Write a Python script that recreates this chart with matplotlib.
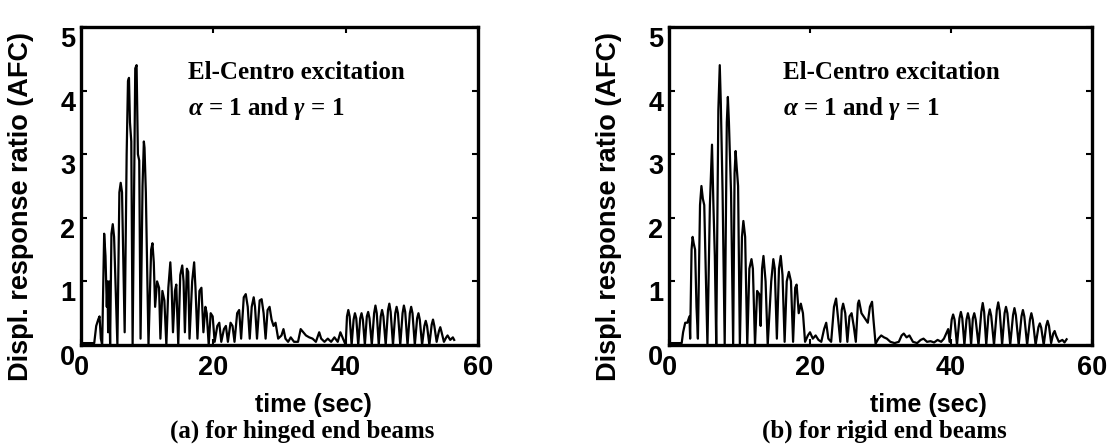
import numpy as np
import matplotlib
matplotlib.use("Agg")
import matplotlib.pyplot as plt

plt.rcParams["mathtext.fontset"] = "custom"
plt.rcParams["mathtext.it"] = "Liberation Serif:italic:bold"
plt.rcParams["mathtext.rm"] = "Liberation Serif:bold"

# ---------------------------------------------------------------------
# Datos: (tiempo [s], razon de respuesta)
# ---------------------------------------------------------------------
hinged = [
    (0.0, 0.03), (2.0, 0.03), (2.3, 0.3), (2.6, 0.4), (2.8, 0.45), (3.0, 0.1),
    (3.2, 0.0), (3.5, 1.75), (3.7, 1.4), (3.9, 0.6), (4.0, 1.0), (4.1, 0.2),
    (4.25, 1.0), (4.4, 0.0), (4.6, 1.75), (4.8, 1.9), (5.0, 1.7), (5.5, 0.0),
    (5.8, 2.4), (6.0, 2.55), (6.2, 2.4), (6.6, 0.2), (6.9, 3.0), (7.1, 4.15),
    (7.25, 4.2), (7.4, 3.5), (7.6, 3.2), (7.8, 0.0), (8.2, 4.35), (8.4, 4.4),
    (8.6, 3.0), (8.8, 2.9), (9.0, 0.1), (9.3, 2.5), (9.5, 3.2), (9.6, 3.1),
    (9.8, 2.4), (10.2, 0.0), (10.6, 1.5), (10.8, 1.6), (11.0, 1.3), (11.2, 0.6),
    (11.5, 1.0), (11.8, 0.9), (12.0, 0.1), (12.3, 0.85), (12.6, 0.7), (12.9, 0.0),
    (13.2, 0.9), (13.5, 1.3), (13.7, 0.9), (13.9, 0.2), (14.2, 0.85), (14.4, 0.95),
    (14.7, 0.0), (15.0, 1.1), (15.3, 1.25), (15.5, 1.0), (15.7, 0.2), (16.0, 1.2),
    (16.2, 1.15), (16.4, 0.1), (16.8, 1.0), (17.1, 1.3), (17.3, 0.9), (17.6, 0.1),
    (17.9, 0.85), (18.2, 0.9), (18.5, 0.2), (18.8, 0.6), (19.0, 0.5), (19.3, 0.0),
    (19.6, 0.5), (19.9, 0.45), (20.2, 0.05), (20.6, 0.3), (20.9, 0.35), (21.2, 0.05),
    (21.6, 0.25), (21.9, 0.3), (22.2, 0.05), (22.6, 0.35), (22.9, 0.3), (23.2, 0.05),
    (23.6, 0.5), (23.9, 0.55), (24.2, 0.1), (24.6, 0.75), (24.9, 0.8), (25.2, 0.6),
    (25.5, 0.1), (25.8, 0.6), (26.1, 0.75), (26.3, 0.6), (26.6, 0.1), (27.0, 0.7),
    (27.3, 0.72), (27.6, 0.5), (27.9, 0.1), (28.2, 0.55), (28.5, 0.6), (28.8, 0.4),
    (29.1, 0.3), (29.4, 0.35), (29.8, 0.1), (30.3, 0.15), (30.6, 0.25), (30.9, 0.1),
    (31.3, 0.05), (31.7, 0.12), (32.2, 0.05), (32.8, 0.05), (33.2, 0.25), (33.6, 0.2),
    (34.0, 0.15), (34.5, 0.12), (35.0, 0.1), (35.5, 0.05), (36.0, 0.2), (36.3, 0.1),
    (36.8, 0.05), (37.3, 0.1), (37.8, 0.05), (38.3, 0.12), (38.8, 0.05), (39.2, 0.2),
    (39.6, 0.1), (40.0, 0.0),
    (40.2, 0.45), (40.4, 0.55), (40.6, 0.45), (40.9, 0.0),
    (41.2, 0.4), (41.4, 0.5), (41.6, 0.42), (41.9, 0.0),
    (42.2, 0.42), (42.4, 0.5), (42.6, 0.4), (42.9, 0.0),
    (43.2, 0.45), (43.4, 0.52), (43.6, 0.42), (43.95, 0.0),
    (44.3, 0.5), (44.5, 0.62), (44.7, 0.5), (45.0, 0.0),
    (45.3, 0.45), (45.5, 0.55), (45.7, 0.45), (46.05, 0.0),
    (46.4, 0.55), (46.6, 0.65), (46.8, 0.52), (47.15, 0.0),
    (47.5, 0.5), (47.7, 0.6), (47.9, 0.5), (48.25, 0.0),
    (48.6, 0.5), (48.8, 0.62), (49.0, 0.52), (49.35, 0.0),
    (49.7, 0.5), (49.9, 0.6), (50.1, 0.5), (50.45, 0.0),
    (50.8, 0.42), (51.0, 0.5), (51.2, 0.4), (51.55, 0.0),
    (51.9, 0.3), (52.1, 0.38), (52.3, 0.3), (52.65, 0.0),
    (53.0, 0.32), (53.2, 0.4), (53.4, 0.3), (53.75, 0.05),
    (54.1, 0.22), (54.3, 0.28), (54.5, 0.2), (54.85, 0.05),
    (55.2, 0.12), (55.4, 0.15), (55.8, 0.08), (56.2, 0.12), (56.4, 0.08),
]

rigid = [
    (0.0, 0.03), (1.8, 0.03), (2.0, 0.2), (2.3, 0.35), (2.6, 0.35), (2.9, 0.45),
    (3.0, 0.1), (3.2, 1.5), (3.35, 1.7), (3.5, 1.6), (3.7, 1.5), (3.9, 0.6),
    (4.1, 0.1), (4.4, 2.2), (4.6, 2.5), (4.8, 2.3), (5.0, 2.2), (5.3, 0.7),
    (5.45, 0.0), (5.8, 2.2), (6.1, 3.15), (6.3, 2.2), (6.5, 1.4), (6.7, 0.0),
    (7.0, 3.7), (7.2, 4.4), (7.35, 3.8), (7.6, 2.4), (7.9, 0.0), (8.2, 3.5),
    (8.35, 3.9), (8.5, 3.5), (8.8, 2.4), (9.1, 0.0), (9.3, 2.7), (9.45, 3.05),
    (9.6, 2.8), (9.8, 2.5), (10.05, 0.0), (10.35, 1.7), (10.55, 1.95), (10.8, 1.7),
    (11.1, 0.0), (11.4, 1.2), (11.7, 1.35), (11.9, 1.2), (12.2, 0.0), (12.5, 0.85),
    (12.8, 0.8), (13.0, 0.3), (13.2, 1.2), (13.4, 1.4), (13.7, 1.0), (14.0, 0.0),
    (14.5, 1.0), (14.8, 1.35), (15.0, 1.2), (15.3, 0.1), (15.6, 1.2), (15.85, 1.4),
    (16.1, 1.1), (16.4, 0.05), (16.7, 1.0), (17.0, 1.15), (17.3, 1.0), (17.6, 0.05),
    (17.9, 0.9), (18.1, 0.95), (18.4, 0.5), (18.7, 0.65), (19.0, 0.5), (19.3, 0.05),
    (19.7, 0.15), (20.0, 0.2), (20.4, 0.1), (20.8, 0.15), (21.2, 0.08), (21.6, 0.05),
    (22.0, 0.25), (22.3, 0.35), (22.6, 0.1), (23.0, 0.05), (23.4, 0.6), (23.7, 0.73),
    (24.0, 0.4), (24.3, 0.05), (24.5, 0.55), (24.7, 0.65), (25.0, 0.5), (25.3, 0.05),
    (25.6, 0.45), (25.9, 0.5), (26.2, 0.3), (26.5, 0.05), (26.8, 0.65), (26.95, 0.7),
    (27.3, 0.5), (27.6, 0.45), (27.9, 0.4), (28.2, 0.35), (28.5, 0.6), (28.8, 0.68),
    (29.0, 0.4), (29.3, 0.02), (29.7, 0.1), (30.1, 0.15), (30.5, 0.12), (30.9, 0.1),
    (31.4, 0.05), (32.0, 0.03), (32.6, 0.05), (33.0, 0.15), (33.3, 0.18), (33.7, 0.12),
    (34.1, 0.15), (34.6, 0.05), (35.2, 0.03), (35.7, 0.08), (36.1, 0.1), (36.6, 0.05),
    (37.1, 0.06), (37.6, 0.04), (38.1, 0.08), (38.6, 0.05), (39.0, 0.1), (39.4, 0.2),
    (39.6, 0.25), (39.8, 0.05),
    (40.1, 0.4), (40.3, 0.48), (40.5, 0.4), (40.85, 0.0),
    (41.2, 0.42), (41.4, 0.52), (41.6, 0.42), (41.9, 0.0),
    (42.2, 0.4), (42.4, 0.5), (42.6, 0.4), (42.85, 0.0),
    (43.1, 0.42), (43.3, 0.5), (43.5, 0.4), (43.9, 0.0),
    (44.3, 0.52), (44.5, 0.66), (44.7, 0.52), (45.0, 0.0),
    (45.3, 0.45), (45.5, 0.56), (45.7, 0.46), (46.1, 0.0),
    (46.5, 0.55), (46.7, 0.67), (46.9, 0.54), (47.25, 0.0),
    (47.6, 0.5), (47.8, 0.6), (48.0, 0.5), (48.4, 0.0),
    (48.8, 0.47), (49.0, 0.58), (49.2, 0.47), (49.6, 0.0),
    (50.0, 0.45), (50.2, 0.55), (50.4, 0.45), (50.8, 0.0),
    (51.2, 0.4), (51.4, 0.5), (51.6, 0.4), (52.0, 0.0),
    (52.4, 0.28), (52.6, 0.34), (52.8, 0.27), (53.15, 0.0),
    (53.5, 0.3), (53.7, 0.38), (53.9, 0.3), (54.2, 0.03),
    (54.5, 0.18), (54.7, 0.22), (54.9, 0.15), (55.3, 0.05),
    (55.8, 0.08), (56.1, 0.04), (56.4, 0.09),
]

xticks = [0, 20, 40, 60]
yticks = [0, 1, 2, 3, 4, 5]
subtitles = ["(a) for hinged end beams", "(b) for rigid end beams"]

SANS = "Liberation Sans"
SERIF = "Liberation Serif"

fig = plt.figure(figsize=(11.08, 4.44), dpi=100)

# posiciones en pixeles: (izq, der, centro xlabel, centro subtitulo, x ylabel)
paneles = [
    (hinged, 81, 478, 313, 302, -0.118),
    (rigid, 669, 1092, 928, 884, -0.112),
]

for (datos, izq, der, xl_c, sub_c, yl_x), sub in zip(paneles, subtitles):
    t, r = np.array(datos).T
    ax = fig.add_axes([izq / 1108, 1 - 345 / 444, (der - izq) / 1108, 318 / 444])
    ax.plot(t, r, color="black", lw=1.6)
    ax.set_xlim(0, 60)
    ax.set_ylim(0, 5)
    ax.set_xticks(xticks)
    ax.set_yticks(yticks)
    ax.set_xticklabels([str(v) for v in xticks], fontsize=19.5,
                       fontweight="bold", family=SANS)
    ax.set_yticklabels([str(v) for v in yticks], fontsize=19.5,
                       fontweight="bold", family=SANS, va="top")
    ax.tick_params(direction="in", length=4, width=1.5, top=True, right=True)
    ax.tick_params(axis="x", pad=7)
    ax.tick_params(axis="y", pad=4)
    for s in ax.spines.values():
        s.set_linewidth(2.4)

    ax.set_ylabel("Displ. response ratio (AFC)", fontsize=19.5,
                  fontweight="bold", family=SANS)
    ax.yaxis.set_label_coords(yl_x, 0.434)

    ax.text(0.27, 0.858, "El-Centro excitation", transform=ax.transAxes,
            fontsize=18, fontweight="bold", family=SERIF, va="center")
    ax.text(0.27, 0.745, r"$\alpha$ = 1 and $\gamma$ = 1", transform=ax.transAxes,
            fontsize=18, fontweight="bold", family=SERIF, va="center")

    fig.text(xl_c / 1108, 1 - 405 / 444, "time (sec)", fontsize=18,
             fontweight="bold", family=SANS, ha="center", va="center")
    fig.text(sub_c / 1108, 1 - 431 / 444, sub, fontsize=18,
             fontweight="bold", family=SERIF, ha="center", va="center")

fig.savefig("out.png", dpi=100)
